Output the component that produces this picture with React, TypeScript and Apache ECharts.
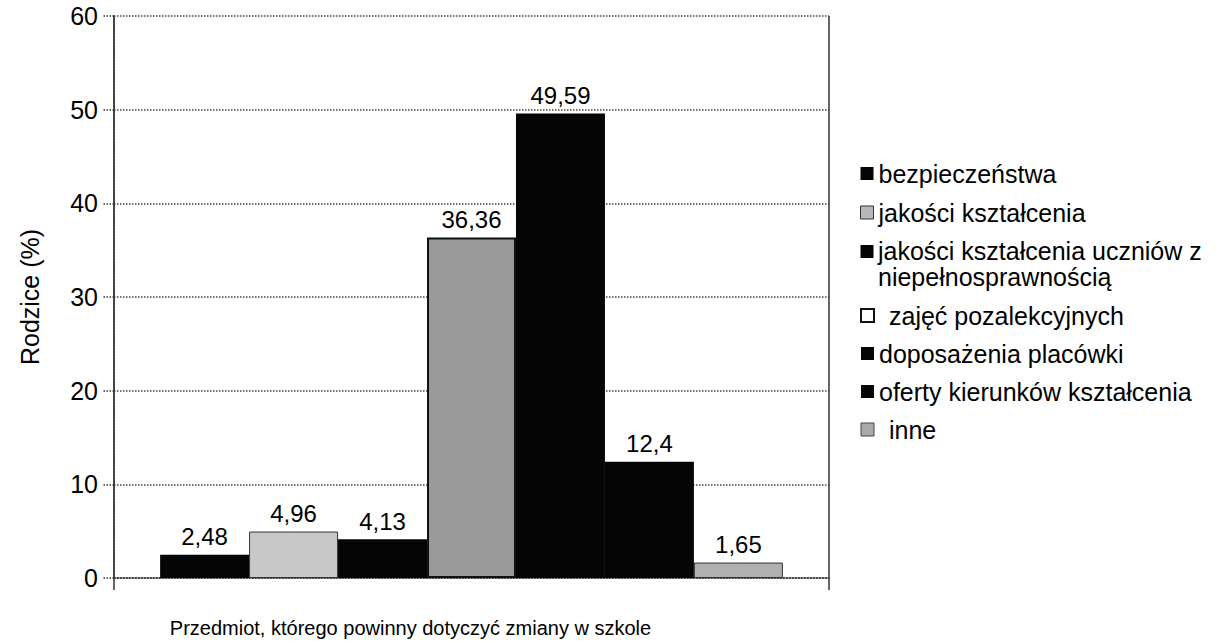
import React, { useEffect, useRef } from "react";
import * as echarts from "echarts";

const categories = ["Przedmiot"];
const seriesNames = [
  "bezpieczeństwa",
  "jakości kształcenia",
  "jakości kształcenia uczniów z niepełnosprawnością",
  "zajęć pozalekcyjnych",
  "doposażenia placówki",
  "oferty kierunków kształcenia",
  "inne",
];
const seriesValues = [2.48, 4.96, 4.13, 36.36, 49.59, 12.4, 1.65];
const yTicks = [0, 10, 20, 30, 40, 50, 60];
const wrappedLegendText = "jakości kształcenia uczniów z\nniepełnosprawnością";

const FONT = "'Liberation Sans', Arial, sans-serif";

const barStyles = [
  { color: "#050505" },
  { color: "#c8c8c8", borderColor: "#333", borderWidth: 1 },
  { color: "#050505" },
  { color: "#9a9a9a", borderColor: "#111", borderWidth: 2 },
  { color: "#050505" },
  { color: "#050505" },
  { color: "#b0b0b0", borderColor: "#333", borderWidth: 1 },
];

const legendIconStyles = [
  { color: "#050505" },
  { color: "#b8b8b8", borderColor: "#333", borderWidth: 1 },
  { color: "#050505" },
  { color: "#ffffff", borderColor: "#111", borderWidth: 2 },
  { color: "#050505" },
  { color: "#050505" },
  { color: "#aaaaaa", borderColor: "#444", borderWidth: 1 },
];
const legendPad = [0, 0, 0, 10, 0, 0, 10];

export default function App() {
  const ref = useRef<HTMLDivElement>(null);
  useEffect(() => {
    if (!ref.current) return;
    const chart = echarts.init(ref.current, null, { renderer: "svg" });
    const legendItem = (i: number) => ({
      name: seriesNames[i],
      itemStyle: legendIconStyles[i],
      textStyle: { padding: [0, 0, 0, legendPad[i]] },
    });
    const legendCommon = {
      orient: "vertical",
      left: 855,
      itemWidth: 13,
      itemHeight: 13,
      icon: "rect",
      textStyle: { fontFamily: FONT, fontSize: 25, color: "#000", lineHeight: 24 },
      selectedMode: false,
    };
    chart.setOption({
      animation: false,
      backgroundColor: "#ffffff",
      textStyle: { fontFamily: FONT },
      grid: { left: 114, right: 396, top: 16, bottom: 65, containLabel: false },
      legend: [
        {
          ...legendCommon,
          top: 156,
          itemGap: 14,
          data: [0, 1, 2].map(legendItem),
          formatter: (name: string) => (name === seriesNames[2] ? " " : name),
        },
        {
          ...legendCommon,
          top: 298,
          itemGap: 13,
          data: [3, 4, 5, 6].map(legendItem),
        },
      ],
      graphic: [
        {
          type: "text",
          left: 878,
          top: 238,
          style: {
            text: wrappedLegendText,
            fontFamily: FONT,
            fontSize: 25,
            lineHeight: 26,
            fill: "#000",
          },
        },
      ],
      xAxis: {
        type: "category",
        data: categories,
        name: "Przedmiot, którego powinny dotyczyć zmiany w szkole",
        nameLocation: "middle",
        nameGap: 40,
        nameTextStyle: {
          fontFamily: FONT,
          fontSize: 20,
          color: "#000",
          padding: [0, 122, 0, 0],
        },
        axisLabel: { show: false },
        axisLine: { show: true, lineStyle: { color: "#333", type: "dotted", width: 1.5 } },
        axisTick: { show: true, length: 12, lineStyle: { color: "#333", width: 1.5 } },
        splitLine: { show: true, lineStyle: { color: "#333", width: 1.5 } },
      },
      yAxis: {
        type: "value",
        min: 0,
        max: 60,
        interval: 10,
        name: "Rodzice (%)",
        nameLocation: "middle",
        nameGap: 72,
        nameTextStyle: { fontFamily: FONT, fontSize: 25, color: "#000" },
        axisLabel: {
          fontFamily: FONT,
          fontSize: 25,
          color: "#000",
          margin: 16,
          formatter: (v: number) => (yTicks.includes(v) ? String(v) : ""),
        },
        axisLine: { show: true, lineStyle: { color: "#333", type: "dotted", width: 1.5 } },
        axisTick: { show: true, length: 11, lineStyle: { color: "#333", type: "dotted", width: 1.5 } },
        splitLine: { show: true, lineStyle: { color: "#444", type: "dotted", width: 1.5 } },
      },
      series: seriesNames.map((name, i) => ({
        type: "bar",
        name,
        data: [seriesValues[i]],
        barGap: "0%",
        barCategoryGap: "12.9%",
        itemStyle: barStyles[i],
        label: {
          show: true,
          position: "top",
          distance: 6,
          fontFamily: FONT,
          fontSize: 24,
          color: "#000",
          formatter: (p: any) => String(p.value).replace(".", ","),
        },
      })),
    });
    return () => chart.dispose();
  }, []);
  return <div ref={ref} style={{ width: 1225, height: 643, position: "absolute", left: 0, top: 0 }} />;
}
